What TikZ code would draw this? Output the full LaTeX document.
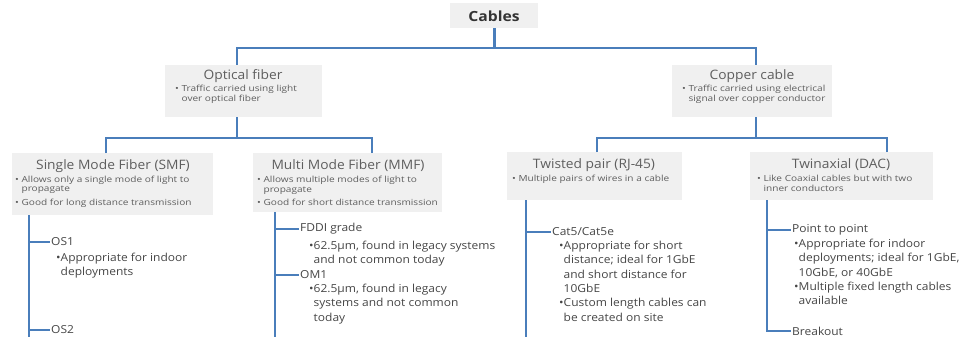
\documentclass[tikz,border=0pt]{standalone}
\usepackage{fontspec}
\setmainfont{Open Sans}
\newfontfamily\smallwide[FakeStretch=1.2]{Open Sans}
\newfontfamily\itemwide[FakeStretch=1.09]{Open Sans}
\newfontfamily\titlewide[FakeStretch=1.06]{Open Sans}
\newfontfamily\headwide[FakeStretch=1.12]{Open Sans}
\definecolor{boxgray}{HTML}{F0F0F0}
\definecolor{titlegray}{HTML}{5E5E5E}
\definecolor{textgray}{HTML}{454545}
\definecolor{linkblue}{HTML}{4A7EBB}
\tikzset{
  box/.style={fill=boxgray, draw=none, inner sep=0pt, anchor=north west},
  ttl/.style={text=titlegray, font=\titlewide\fontsize{13}{15}\selectfont, inner sep=0pt},
  bsmall/.style={text=titlegray, font=\smallwide\fontsize{8.4}{9.8}\selectfont, inner sep=0pt, anchor=north west, align=left},
  item/.style={text=textgray, font=\itemwide\fontsize{11}{14.3}\selectfont, inner sep=0pt, anchor=west},
  itembody/.style={text=textgray, font=\itemwide\fontsize{11}{14.3}\selectfont, inner sep=0pt, anchor=north west, align=left},
  link/.style={draw=linkblue, line width=2.6pt}
}
\newcommand{\mybulsp}{\hphantom{\textbullet}}
\newcommand{\mysmallsp}{\hphantom{\textbullet\ }}
\begin{document}
\begin{tikzpicture}[x=1pt,y=-1pt]
\useasboundingbox (0,0) rectangle (963,337);
\clip (0,0) rectangle (963,337);
% boxes
\node[box, minimum width=88pt, minimum height=25pt] (cables) at (450,3) {};
\node[text=black!80, font=\headwide\fontsize{14}{16}\selectfont\bfseries, inner sep=0pt] (cablest) at (494,16) {Cables};
\node[box, minimum width=157pt, minimum height=52pt] (optical) at (165,65) {};
\node[box, minimum width=160pt, minimum height=52pt] (copper) at (672,65) {};
\node[box, minimum width=201pt, minimum height=62pt] (smf) at (12,153) {};
\node[box, minimum width=189pt, minimum height=59pt] (mmf) at (253,153) {};
\node[box, minimum width=175pt, minimum height=48pt] (tp) at (507,152) {};
\node[box, minimum width=183pt, minimum height=48pt] (tw) at (750,152) {};
% titles
\node[ttl] (opticalt) at (243,76) {Optical fiber};
\node[ttl] (coppert) at (752,76) {Copper cable};
\node[ttl] (smft0) at (113,166) {Single Mode Fiber (SMF)};
\node[ttl] (mmft0) at (348,166) {Multi Mode Fiber (MMF)};
\node[ttl] (tpt0) at (594,165) {Twisted pair (RJ-45)};
\node[ttl] (twt0) at (841,165) {Twinaxial (DAC)};
% box bullets
\node[bsmall] (opticalb) at (175,85) {\textbullet\ Traffic carried using light\\\mysmallsp over optical fiber};
\node[bsmall] (copperb) at (682,85) {\textbullet\ Traffic carried using electrical\\\mysmallsp signal over copper conductor};
\node[bsmall] (smfb) at (15,175.5) {\textbullet\ Allows only a single mode of light to\\\mysmallsp propagate\\[3.5pt]\textbullet\ Good for long distance transmission};
\node[bsmall] (mmfb) at (257,176) {\textbullet\ Allows multiple modes of light to\\\mysmallsp propagate\\[3.5pt]\textbullet\ Good for short distance transmission};
\node[bsmall] (tpb) at (512,175) {\textbullet\ Multiple pairs of wires in a cable};
\node[bsmall] (twb) at (757,175) {\textbullet\ Like Coaxial cables but with two\\\mysmallsp inner conductors};
% connector points
\coordinate (optin) at (237,65);
\coordinate (optout) at (237,117);
\coordinate (copin) at (756,65);
\coordinate (copout) at (756,117);
\coordinate (smfin) at (106,153);
\coordinate (mmfin) at (372,153);
\coordinate (tpin) at (597,152);
\coordinate (twin) at (887,152);
\coordinate (smftop) at (29,215);
\coordinate (mmftop) at (275,212);
\coordinate (tptop) at (526,200);
\coordinate (twtop) at (767,200);
\coordinate (smfend) at (29,340);
\coordinate (mmfend) at (275,340);
\coordinate (tpend) at (526,340);
% tree items
\node[item] (os1) at (51,242) {OS1};
\node[itembody] (os1b) at (56,253) {\textbullet Appropriate for indoor\\\mybulsp deployments};
\node[item] (os2) at (51,330) {OS2};
\node[item] (fddi) at (300,229) {FDDI grade};
\node[itembody] (fddib) at (309,241) {\textbullet 62.5µm, found in legacy systems\\\mybulsp and not common today};
\node[item] (om1) at (300,275) {OM1};
\node[itembody] (om1b) at (309,284) {\textbullet 62.5µm, found in legacy\\\mybulsp systems and not common\\\mybulsp today};
\node[item] (cat5) at (552,232) {Cat5/Cat5e};
\node[itembody] (cat5b) at (559,241) {\textbullet Appropriate for short\\\mybulsp distance; ideal for 1GbE\\\mybulsp and short distance for\\\mybulsp 10GbE\\\textbullet Custom length cables can\\\mybulsp be created on site};
\node[item] (p2p) at (792,230) {Point to point};
\node[itembody] (p2pb) at (794,239) {\textbullet Appropriate for indoor\\\mybulsp deployments; ideal for 1GbE,\\\mybulsp 10GbE, or 40GbE\\\textbullet Multiple fixed length cables\\\mybulsp available};
\node[item] (brk) at (792,331) {Breakout};
% connectors
\draw[link] (optin) -- ++(0,-17) -| (cables.south);
\draw[link] (copin) -- ++(0,-17) -| (cables.south);
\draw[link] (smfin) -- ++(0,-15) -| (optout);
\draw[link] (mmfin) -- ++(0,-15) -| (optout);
\draw[link] (tpin) -- ++(0,-14) -| (copout);
\draw[link] (twin) -- ++(0,-14) -| (copout);
\draw[link] (smftop) |- ([xshift=-1pt]os1.west);
\draw[link] (smftop) -- (smfend);
\draw[link] (smftop) |- ([xshift=-1pt]os2.west);
\draw[link] (mmftop) |- ([xshift=-1pt]fddi.west);
\draw[link] (mmftop) |- ([xshift=-1pt]om1.west);
\draw[link] (mmftop) -- (mmfend);
\draw[link] (tptop) |- ([xshift=-1pt]cat5.west);
\draw[link] (tptop) -- (tpend);
\draw[link] (twtop) |- ([xshift=-1pt]p2p.west);
\draw[link] (twtop) |- ([xshift=-1pt]brk.west);
\end{tikzpicture}
\end{document}
